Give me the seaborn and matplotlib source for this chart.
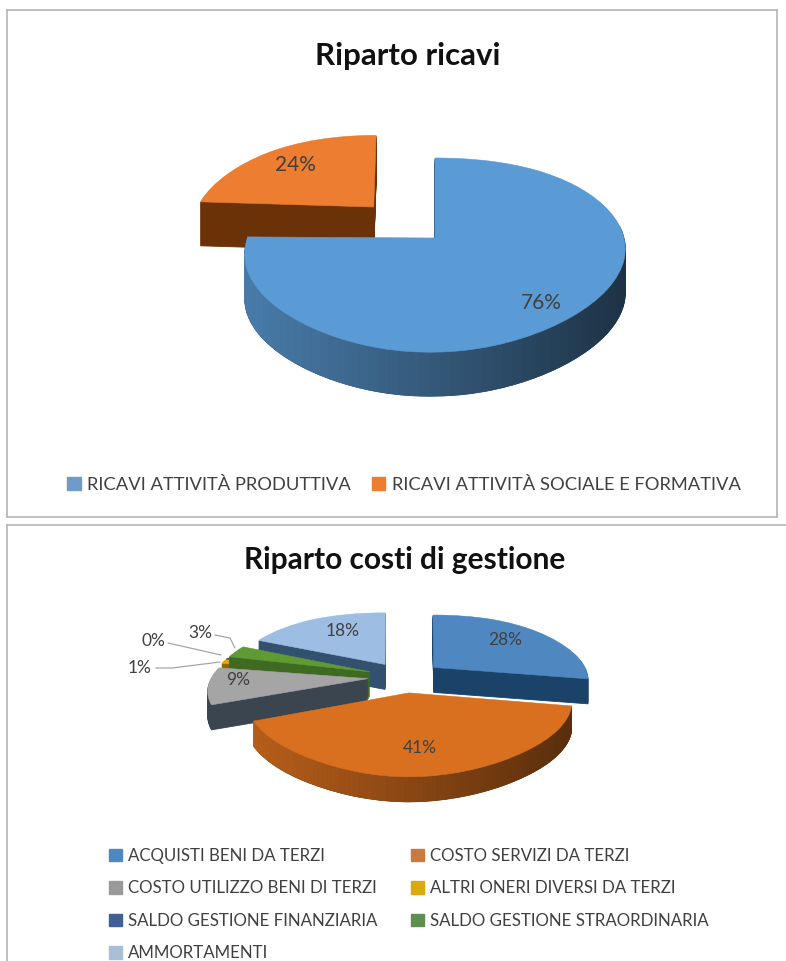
import numpy as np
import matplotlib
matplotlib.use("Agg")
import matplotlib.pyplot as plt
import seaborn as sns
from matplotlib.collections import PolyCollection
from matplotlib.colors import to_rgb
from matplotlib.path import Path
from matplotlib.transforms import Transform

# ---------- data ----------
rev_labels = ["RICAVI ATTIVITÀ PRODUTTIVA", "RICAVI ATTIVITÀ SOCIALE E FORMATIVA"]
rev_values = [76, 24]
cost_labels = ["ACQUISTI BENI DA TERZI", "COSTO SERVIZI DA TERZI",
               "COSTO UTILIZZO BENI DI TERZI", "ALTRI ONERI DIVERSI DA TERZI",
               "SALDO GESTIONE FINANZIARIA", "SALDO GESTIONE STRAORDINARIA",
               "AMMORTAMENTI"]
cost_values = [28, 41, 9, 1, 0.3, 3, 18]

# ---------- styling ----------
rev_top = ["#5B9BD5", "#ED7D31"]
rev_wall = ["#2c5a86", "#6b3208"]
cost_top = ["#4f88c0", "#D9701F", "#A5A5A5", "#E0A800", "#34507c", "#5f9a35", "#9DBDE3"]
cost_wall = ["#1b4369", "#7a3c0e", "#3a4550", "#8a6a00", "#26405f", "#3e6a22", "#33506e"]
cost_legend = ["#4f88c0", "#C87a40", "#9a9a9a", "#D9AA10", "#3f5f95", "#5f8f50", "#a8bfd6"]
rev_legend = ["#6f9bc8", "#ED7D31"]

sns.set_theme(style="white")
plt.rcParams["font.family"] = ["Lato", "DejaVu Sans"]
TXT = "#404040"


class Persp(Transform):
    """Tilted view of the unit-pie plane, in panel pixels."""
    input_dims = output_dims = 2
    is_separable = False
    has_inverse = False

    def __init__(self, cx, cy, a, k, p, q, s, d=0.0):
        super().__init__()
        self.par = (cx, cy, a, k, p, q, s, d)

    def transform_non_affine(self, values):
        cx, cy, a, k, p, q, s, d = self.par
        vals = np.asarray(values, float)
        u, v = vals[:, 0], vals[:, 1]
        x = cx + a * u * (1 - q * v * np.abs(u))
        y = cy - k * v / (1 + p * v) + d + s * np.clip(-u, 0, 1) * np.clip(1 - v / 0.3, 0, 1)
        return np.column_stack([x, y])

    def transform_path_non_affine(self, path):
        return Path(self.transform_non_affine(path.vertices), path.codes)


def shade(col, f):
    return tuple(np.clip(np.array(to_rgb(col)) * f, 0, 1))


def pie3d(ax, values, explode, top, wall, geom, depth, order, arc_shade, label_xy, label_size):
    # extrusion: stacked copies of the library's pie, deep to shallow
    for d in np.arange(depth, 0, -1.0):
        wedges, _ = ax.pie(values, explode=explode, startangle=90, counterclock=False,
                           colors=wall, radius=1)
        tr = Persp(*geom, d) + ax.transData
        for i, w in enumerate(wedges):
            w.set_transform(tr)
            w.set_edgecolor(wall[i])
            w.set_linewidth(0.6)
            w.set_zorder(order[i] * 10 + 1)
    # top faces and percent labels
    wedges, _, autos = ax.pie(values, explode=explode, startangle=90, counterclock=False,
                              colors=top, radius=1, autopct="%.0f%%")
    proj = Persp(*geom, 0)
    tr0 = proj + ax.transData
    xmin, xmax = geom[0] - geom[2] * 1.02, geom[0] + geom[2] * 1.02
    for i, w in enumerate(wedges):
        w.set_transform(tr0)
        w.set_edgecolor(top[i])
        w.set_linewidth(0.4)
        w.set_zorder(order[i] * 10 + 5)
        if arc_shade[i] is None:
            continue
        # curved outer wall with a left-to-right shading
        f_l, f_r = arc_shade[i]
        th = np.radians(np.linspace(w.theta1, w.theta2, 90))
        pts = np.column_stack([w.center[0] + np.cos(th), w.center[1] + np.sin(th)])
        up = proj.transform_non_affine(pts)
        polys, cols = [], []
        for j in range(len(up) - 1):
            if pts[j, 1] - w.center[1] > 0.12:
                continue
            polys.append([up[j], up[j + 1], up[j + 1] + [0, depth], up[j] + [0, depth]])
            t = np.clip((up[j, 0] - xmin) / (xmax - xmin), 0, 1)
            cols.append(shade(top[i], f_l + (f_r - f_l) * t))
        if polys:
            ax.add_collection(PolyCollection(polys, facecolors=cols, edgecolors=cols,
                                             linewidths=0.5, zorder=order[i] * 10 + 2))
    for t, xy in zip(autos, label_xy):
        t.set_transform(ax.transData)
        t.set_position(xy)
        t.set_ha("center")
        t.set_va("center")
        t.set_fontsize(label_size)
        t.set_color(TXT)
        t.set_zorder(200)
    return wedges, autos


def panel(fig, x0, y0, x1, y1):
    W, H = 786, 961
    ax = fig.add_axes([x0 / W, 1 - y1 / H, (x1 - x0) / W, (y1 - y0) / H])
    return ax, (x0, x1, y1, y0)


def finish(ax, lims):
    ax.set_aspect("auto")
    ax.set_xlim(lims[0], lims[1])
    ax.set_ylim(lims[2], lims[3])
    ax.set_frame_on(True)
    ax.set_xticks([])
    ax.set_yticks([])
    for s in ax.spines.values():
        s.set_color("#b5b5b5")
        s.set_linewidth(1.2)


fig = plt.figure(figsize=(7.86, 9.61), dpi=100, facecolor="white")

# ---------- revenue panel ----------
ax1, lim1 = panel(fig, 7, 10, 777, 517)
w1, _ = pie3d(ax1, rev_values, [0, 0.48], rev_top, rev_wall,
              (435, 238, 189, 94, 0.175, 0.118, 6), 44, [1, 0],
              [(0.8, 0.32), None],
              [(541, 303), (295, 165)], 15)
ax1.text(408, 56, "Riparto ricavi", ha="center", va="center",
         fontsize=22.5, fontweight="bold", color="#111111")
h1 = [plt.Rectangle((0, 0), 1, 1, color=c) for c in rev_legend]
finish(ax1, lim1)
ax1.legend(h1, rev_labels, ncol=2, loc="center", bbox_to_anchor=(404, 485),
           bbox_transform=ax1.transData, frameon=False, fontsize=13.2, labelcolor=TXT,
           handlelength=0.75, handleheight=0.75, handletextpad=0.35, columnspacing=1.1)

# ---------- cost panel ----------
ax2, lim2 = panel(fig, 7, 525, 800, 975)
w2, _ = pie3d(ax2, cost_values, [0.24] * 7, cost_top, cost_wall,
              (405, 677, 156, 64, 0.166, 0.14, 0), 25, [5, 6, 4, 2, 1, 3, 0],
              [None, (0.85, 0.42), None, None, None, None, None],
              [(505, 640), (420, 748), (238, 680), (140, 668), (153, 641), (200, 633), (343, 631)], 12.5)
ax2.text(405, 560, "Riparto costi di gestione", ha="center", va="center",
         fontsize=21.5, fontweight="bold", color="#111111")
leaders = [([156, 172, 220], [668, 668, 662]),
           ([168, 221], [643, 655]),
           ([215, 230, 235], [635, 638, 648])]
for lx, ly in leaders:
    ax2.plot(lx, ly, color="#a6a6a6", lw=0.9, zorder=150)
order = [0, 2, 4, 6, 1, 3, 5]
h2 = [plt.Rectangle((0, 0), 1, 1, color=cost_legend[i]) for i in order]
finish(ax2, lim2)
ax2.legend(h2, [cost_labels[i] for i in order], ncol=2, loc="upper left",
           bbox_to_anchor=(109, 848), bbox_transform=ax2.transData, frameon=False,
           fontsize=12.2, labelcolor=TXT, handlelength=0.75, handleheight=0.75,
           handletextpad=0.35, columnspacing=2.0, labelspacing=0.97, borderpad=0, borderaxespad=0)

sns.despine(ax=ax2, right=True, bottom=True, left=False, top=False)
fig.savefig("out.png", dpi=100, facecolor="white")
